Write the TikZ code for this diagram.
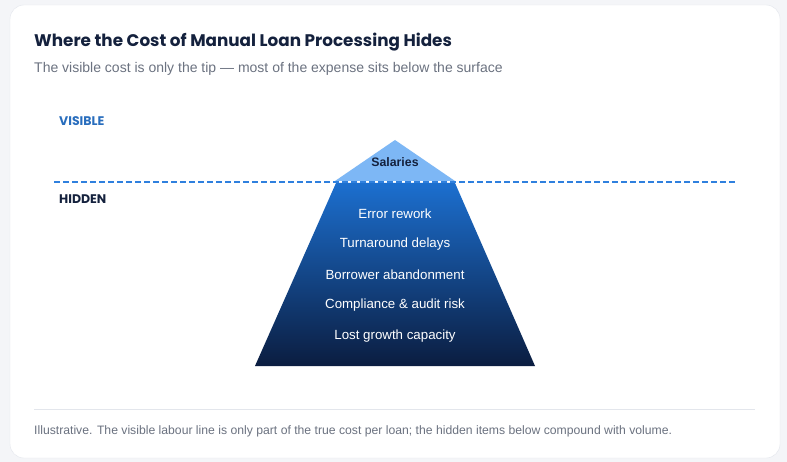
\documentclass[tikz,border=0pt]{standalone}
\usepackage{fontspec}
\setmainfont{Liberation Sans}
\newfontfamily\headfont{Poppins}
\usetikzlibrary{positioning}
\usepackage{xcolor}
\definecolor{pagegray}{HTML}{F4F5F8}
\definecolor{cardline}{HTML}{E3E6EC}
\definecolor{inknavy}{HTML}{14213D}
\definecolor{inkgray}{HTML}{6B7280}
\definecolor{waterblue}{HTML}{2F80DE}
\definecolor{tipblue}{HTML}{7DB7F5}
\definecolor{deeptop}{HTML}{1C6FCF}
\definecolor{deepbot}{HTML}{0B1D40}

\begin{document}
\begin{tikzpicture}[
    x=1pt, y=-1pt,
    node distance=12pt,
    title/.style={font=\headfont\bfseries\fontsize{16.8}{19}\selectfont, text=inknavy, anchor=west, inner sep=0pt},
    subtitle/.style={font=\fontsize{14}{16}\selectfont, text=inkgray, anchor=west, inner sep=0pt},
    zone/.style={font=\headfont\bfseries\fontsize{12.5}{14}\selectfont, anchor=west, inner sep=0pt},
    item/.style={font=\fontsize{13.3}{15}\selectfont, text=white, inner sep=0pt, minimum height=18pt},
    note/.style={font=\fontsize{12.2}{14}\selectfont, text=inkgray, anchor=west, inner sep=0pt},
  ]
    \useasboundingbox (0,0) rectangle (787,462);
    \fill[pagegray] (0,0) rectangle (787,462);
    \draw[cardline, fill=white, rounded corners=14pt] (10,5) rectangle (780,458);

    \node[title]    (head) at (34,42) {Where the Cost of Manual Loan Processing Hides};
    \node[subtitle] (sub)  at (34,69) {The visible cost is only the tip --- most of the expense sits below the surface};

    % waterline
    \coordinate (wl) at (54,182);
    \coordinate (wr) at (736,182);
    \node[zone, text=waterblue!85!black] (vis) at (59,121) {VISIBLE};
    \node[zone, text=inknavy]            (hid) at (59,199) {HIDDEN};

    % iceberg
    \fill[tipblue] (395,140) -- (455,181) -- (335,181) -- cycle;
    \shade[top color=deeptop, bottom color=deepbot]
      (336,183) -- (455,183) -- (535,366) -- (255,366) -- cycle;
    \draw[waterblue, line width=2.2pt, dash pattern=on 5.5pt off 3.5pt] (wl) -- (wr);

    \node[font=\bfseries\fontsize{12.3}{14}\selectfont, text=inknavy, inner sep=0pt] (sal) at (395,162) {Salaries};
    \node[item] (rework) at (395,214) {Error rework};
    \node[item, below=of rework]  (delay)   {Turnaround delays};
    \node[item, below=of delay]   (abandon) {Borrower abandonment};
    \node[item, below=of abandon] (audit)   {Compliance \& audit risk};
    \node[item, below=of audit]   (growth)  {Lost growth capacity};

    % footer
    \draw[cardline] (34,409) -- (755,409);
    \node[note] (foot) at (34,431) {Illustrative. The visible labour line is only part of the true cost per loan; the hidden items below compound with volume.};
  \end{tikzpicture}
\end{document}
